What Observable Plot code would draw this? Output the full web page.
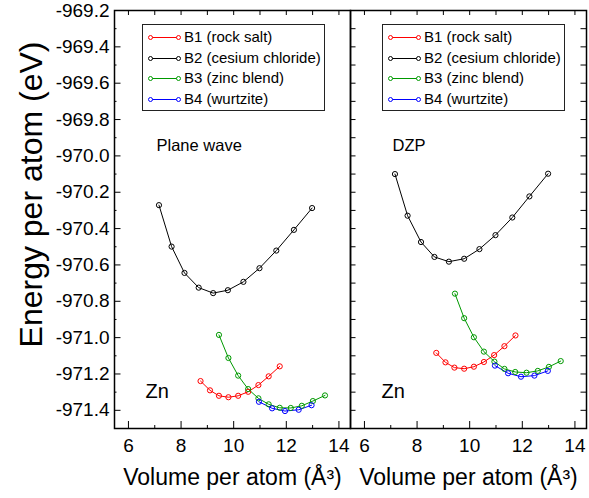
<!DOCTYPE html>
<html>
<head>
<meta charset="utf-8">
<script src="https://cdn.jsdelivr.net/npm/d3@7"></script>
<script src="https://cdn.jsdelivr.net/npm/@observablehq/plot@0.6"></script>
<style>
  html, body { margin: 0; padding: 0; background: #fff; }
  #wrap { position: relative; width: 589px; height: 498px; font-family: "Liberation Sans", Arial, sans-serif; }
  .legend { position: absolute; box-sizing: border-box; border: 1px solid #222; background: #fff; padding-top: 2px; }
  .legend .row { position: relative; height: 20.5px; font-size: 15px; line-height: 20.5px; white-space: nowrap; color: #000; }
  .legend .row svg { position: absolute; left: 5px; top: 5px; }
  .legend .row span { position: absolute; left: 41px; top: 0; }
</style>
</head>
<body>
<div id="wrap"></div>
<script>
// ---- data ----
const panels = ["Plane wave", "DZP"];
const seriesNames = ["B1 (rock salt)", "B2 (cesium chloride)", "B3 (zinc blend)", "B4 (wurtzite)"];
const seriesColors = ["#ff0000", "#000000", "#009900", "#0000ff"];

// Plane wave panel
const pwB1Vol = [8.74, 9.10, 9.44, 9.80, 10.17, 10.55, 10.94, 11.33, 11.75];
const pwB1E = [-971.239, -971.290, -971.320, -971.328, -971.320, -971.298, -971.261, -971.213, -971.158];
const pwB2Vol = [7.16, 7.64, 8.13, 8.67, 9.22, 9.78, 10.37, 10.98, 11.62, 12.29, 12.98];
const pwB2E = [-970.271, -970.499, -970.644, -970.725, -970.755, -970.739, -970.693, -970.618, -970.521, -970.407, -970.287];
const pwB3Vol = [9.44, 9.80, 10.17, 10.55, 10.94, 11.33, 11.75, 12.17, 12.59, 13.01, 13.47];
const pwB3E = [-970.985, -971.112, -971.209, -971.283, -971.334, -971.367, -971.386, -971.387, -971.375, -971.349, -971.318];
const pwB4Vol = [10.96, 11.46, 11.95, 12.47, 12.96];
const pwB4E = [-971.353, -971.389, -971.404, -971.397, -971.372];

// DZP panel
const dzB1Vol = [8.73, 9.08, 9.42, 9.79, 10.16, 10.54, 10.93, 11.32, 11.74];
const dzB1E = [-971.084, -971.136, -971.165, -971.171, -971.160, -971.134, -971.096, -971.047, -970.988];
const dzB2Vol = [7.16, 7.64, 8.15, 8.66, 9.21, 9.79, 10.37, 10.98, 11.62, 12.27, 12.98];
const dzB2E = [-970.100, -970.329, -970.474, -970.556, -970.582, -970.566, -970.513, -970.436, -970.339, -970.223, -970.098];
const dzB3Vol = [9.44, 9.79, 10.16, 10.54, 10.94, 11.32, 11.73, 12.16, 12.59, 13.01, 13.46];
const dzB3E = [-970.758, -970.893, -970.998, -971.077, -971.132, -971.172, -971.189, -971.193, -971.183, -971.161, -971.129];
const dzB4Vol = [10.96, 11.46, 11.95, 12.46, 12.97];
const dzB4E = [-971.154, -971.196, -971.215, -971.209, -971.183];

// ticks
const xMajorTicks = [6, 8, 10, 12, 14];
const xMinorTicks = [7, 9, 11, 13];
const yMajorTicks = [-969.2, -969.4, -969.6, -969.8, -970.0, -970.2, -970.4, -970.6, -970.8, -971.0, -971.2, -971.4];
const yMinorTicks = [-969.3, -969.5, -969.7, -969.9, -970.1, -970.3, -970.5, -970.7, -970.9, -971.1, -971.3];

const panelTitles = ["Plane wave", "DZP"];
const elementLabel = "Zn";
const xTitle = "Volume per atom (Å³)";
const yTitle = "Energy per atom (eV)";

// ---- build table ----
const seriesTable = [
  [panels[0], seriesNames[0], pwB1Vol, pwB1E],
  [panels[0], seriesNames[1], pwB2Vol, pwB2E],
  [panels[0], seriesNames[2], pwB3Vol, pwB3E],
  [panels[0], seriesNames[3], pwB4Vol, pwB4E],
  [panels[1], seriesNames[0], dzB1Vol, dzB1E],
  [panels[1], seriesNames[1], dzB2Vol, dzB2E],
  [panels[1], seriesNames[2], dzB3Vol, dzB3E],
  [panels[1], seriesNames[3], dzB4Vol, dzB4E]
];
const rows = seriesTable.flatMap(([panel, series, vs, es]) =>
  vs.map((v, i) => ({panel, series, vol: v, energy: es[i]})));

// ---- layout ----
const W = 589, H = 498, mL = 113, mR = 3, mT = 10, mB = 70;
const panelW = (W - mL - mR) / 2, panelH = H - mT - mB;

const inPanels = (vals, ps) => vals.flatMap(v => ps.map(p => ({v, p})));

function ticksYMark(vals, ps, len, side) {
  const o = {y: "v", fx: "p", stroke: "#000", strokeWidth: 1};
  if (side === "left") o.insetRight = panelW - len; else o.insetLeft = panelW - len;
  return Plot.tickY(inPanels(vals, ps), o);
}
function ticksXMark(vals, ps, len, side) {
  const o = {x: "v", fx: "p", stroke: "#000", strokeWidth: 1};
  if (side === "bottom") o.insetTop = panelH - len; else o.insetBottom = panelH - len;
  return Plot.tickX(inPanels(vals, ps), o);
}

const chart = Plot.plot({
  width: W, height: H,
  marginLeft: mL, marginRight: mR, marginTop: mT, marginBottom: mB,
  style: {fontFamily: "'Liberation Sans', Arial, sans-serif", background: "#fff", overflow: "visible", color: "#000"},
  fx: {domain: panels, padding: 0, axis: null},
  x: {domain: [5.47, 14.44]},
  y: {domain: [-971.5, -969.2]},
  color: {domain: seriesNames, range: seriesColors},
  marks: [
    Plot.line(rows, {x: "vol", y: "energy", z: "series", stroke: "series", fx: "panel", strokeWidth: 1}),
    Plot.dot(rows, {x: "vol", y: "energy", stroke: "series", fx: "panel", r: 2.6, fill: "none", strokeWidth: 1}),
    // inward ticks
    ticksYMark(yMajorTicks, [panels[0]], 7, "left"),
    ticksYMark(yMinorTicks, [panels[0]], 3, "left"),
    ticksYMark(yMajorTicks.concat(yMinorTicks), [panels[1]], 6, "left"),
    ticksYMark(yMajorTicks.concat(yMinorTicks), [panels[1]], 6, "right"),
    ticksXMark(xMajorTicks, panels, 7, "bottom"),
    ticksXMark(xMinorTicks, panels, 3, "bottom"),
    ticksXMark(xMajorTicks.concat(xMinorTicks), panels, 5, "top"),
    Plot.frame({stroke: "#000", strokeWidth: 1.5}),
    // axes labels
    Plot.axisY(yMajorTicks, {tickSize: 0, tickPadding: 5, tickFormat: d => d.toFixed(1), fontSize: 19, label: null}),
    Plot.axisX(xMajorTicks, {tickSize: 0, tickPadding: 10, tickFormat: d => String(d), fontSize: 19, label: null}),
    // annotations
    Plot.text(panels.map((p, i) => ({p, t: panelTitles[i]})), {fx: "p", text: "t", frameAnchor: "top-left", textAnchor: "start", lineAnchor: "middle", dx: 42, dy: 135, fontSize: 16.5}),
    Plot.text(panels.map(p => ({p, t: elementLabel})), {fx: "p", text: "t", frameAnchor: "bottom-left", textAnchor: "start", lineAnchor: "middle", dx: 31, dy: -37, fontSize: 20}),
    Plot.text(panels.map(p => ({p, t: xTitle})), {fx: "p", text: "t", frameAnchor: "bottom", textAnchor: "middle", lineAnchor: "middle", dy: 49, fontSize: 23}),
    Plot.text([{p: panels[0], t: yTitle}], {fx: "p", text: "t", frameAnchor: "left", textAnchor: "middle", rotate: -90, lineAnchor: "middle", dx: -83, dy: -25, fontSize: 32})
  ]
});

const wrap = document.getElementById("wrap");
wrap.appendChild(chart);

// legends (one per panel)
const legendLefts = [142, 382];
legendLefts.forEach(left => {
  const box = document.createElement("div");
  box.className = "legend";
  box.style.left = left + "px";
  box.style.top = "24px";
  box.style.width = "183px";
  box.style.height = "87px";
  seriesNames.forEach((name, i) => {
    const row = document.createElement("div");
    row.className = "row";
    const c = seriesColors[i];
    row.innerHTML = `<svg width="34" height="11"><line x1="2.5" y1="5.5" x2="30.5" y2="5.5" stroke="${c}" stroke-width="1"/><circle cx="2.5" cy="5.5" r="2" fill="#fff" stroke="${c}"/><circle cx="30.5" cy="5.5" r="2" fill="#fff" stroke="${c}"/></svg><span>${name}</span>`;
    box.appendChild(row);
  });
  wrap.appendChild(box);
});
</script>
</body>
</html>
